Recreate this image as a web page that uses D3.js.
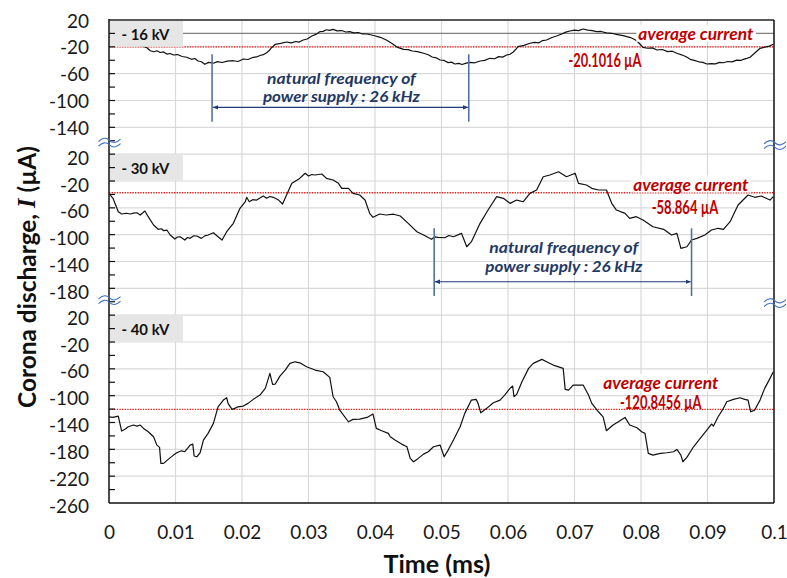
<!DOCTYPE html>
<html><head><meta charset="utf-8">
<script src="https://cdn.jsdelivr.net/npm/d3@7"></script>
<style>body{margin:0;background:#fff}svg{display:block}</style>
</head><body><svg id="chart" width="787" height="578"></svg>
<script>
// ---------------- data ----------------
const timeTicks = [0, 0.01, 0.02, 0.03, 0.04, 0.05, 0.06, 0.07, 0.08, 0.09, 0.1];
const panelNames = ["- 16 kV", "- 30 kV", "- 40 kV"];
const tickLabels16 = [20, -20, -60, -100, -140];
const tickLabels30 = [20, -20, -60, -100, -140, -180];
const tickLabels40 = [20, -20, -60, -100, -140, -180, -220, -260];
const averageTexts = ["-20.1016 µA", "-58.864 µA", "-120.8456 µA"];
const averageLevels = [-20.1, -37.5, -120.4];   // where the dotted lines sit in the picture
const periodMarks16 = [0.0155, 0.0541];          // natural frequency markers (ms)
const periodMarks30 = [0.0489, 0.0876];

const wave16 = [[0,-5.3],[0.0012,-7.5],[0.0024,-11.3],[0.0035,-14.5],[0.0047,-18.8],[0.0052,-19.5],[0.0057,-21.3],[0.0062,-25.8],[0.0067,-27.3],[0.0072,-25.9],[0.0077,-28.4],[0.0082,-27.6],[0.0087,-30.8],[0.0092,-29.9],[0.0097,-32.2],[0.0103,-31.5],[0.011,-34.4],[0.0117,-35.5],[0.0124,-38.6],[0.0129,-37.4],[0.0134,-41.1],[0.0139,-42.2],[0.0144,-46],[0.015,-43.2],[0.0157,-44.5],[0.0163,-42.1],[0.017,-43.4],[0.0178,-41.2],[0.0187,-40.7],[0.0194,-41.9],[0.0202,-38.1],[0.0209,-38.9],[0.0217,-35.6],[0.0222,-35.1],[0.0227,-32.9],[0.0232,-31.7],[0.0237,-28.7],[0.0241,-25.5],[0.0244,-21.7],[0.0247,-19.1],[0.025,-16.2],[0.0258,-14.9],[0.0267,-12.8],[0.0274,-14.1],[0.0281,-12],[0.0286,-12.9],[0.0292,-9.8],[0.0298,-8.3],[0.0305,-3.9],[0.0311,-1.5],[0.0317,2.6],[0.0322,3.1],[0.0327,5.5],[0.0332,4.6],[0.0337,6.1],[0.0343,3.8],[0.035,4.3],[0.0356,2.1],[0.0362,2.6],[0.0368,0.9],[0.0375,1.4],[0.0381,-0.8],[0.0388,-0.9],[0.0398,-3.1],[0.0408,-5.8],[0.0417,-9.8],[0.0425,-14.7],[0.0434,-20.9],[0.0443,-23.7],[0.045,-24.1],[0.0456,-26.2],[0.0464,-27.1],[0.0473,-29.6],[0.048,-31.8],[0.0486,-35.2],[0.0492,-36.4],[0.0498,-39.6],[0.0504,-40.3],[0.051,-43.5],[0.0515,-42.8],[0.052,-45.6],[0.0526,-44.6],[0.0531,-46.3],[0.0537,-44.2],[0.0543,-43.1],[0.055,-43.8],[0.0558,-41.1],[0.0565,-40.2],[0.0573,-37.1],[0.058,-37.8],[0.0586,-34.6],[0.0592,-35.3],[0.0598,-32.2],[0.0603,-31.1],[0.0608,-27.7],[0.0612,-23.5],[0.0615,-19.8],[0.0624,-17.9],[0.0633,-14.7],[0.064,-13.4],[0.0646,-14.2],[0.0652,-10.7],[0.0658,-9.8],[0.0666,-6.1],[0.0673,-3.9],[0.068,-1.2],[0.0687,1.9],[0.0693,3.6],[0.07,4.8],[0.0706,4.1],[0.0713,6.6],[0.072,4.9],[0.0727,4.2],[0.0733,2.6],[0.074,2.9],[0.0748,0.8],[0.0756,0.2],[0.0763,-1.3],[0.0773,-3.2],[0.0783,-5.8],[0.0789,-8.4],[0.0794,-11.3],[0.0799,-16.5],[0.0803,-20.7],[0.081,-22.1],[0.0817,-21.6],[0.0824,-24.7],[0.0832,-24],[0.084,-27.2],[0.0847,-26.5],[0.0854,-29.6],[0.0861,-31.9],[0.0868,-34.8],[0.0874,-38.6],[0.088,-40.1],[0.0887,-42.3],[0.0893,-43.1],[0.0899,-45.6],[0.0905,-45.1],[0.0912,-45.4],[0.0918,-43.2],[0.0924,-43.7],[0.093,-41.9],[0.0937,-42.5],[0.0944,-39.8],[0.095,-40.3],[0.0954,-38.6],[0.0959,-37.2],[0.0964,-35.6],[0.0972,-28.5],[0.0979,-22.2],[0.0986,-20.4],[0.0993,-18.9],[0.0999,-16.2]];

const wave30 = [[0.0002,-40.9],[0.0006,-45.8],[0.0014,-65.8],[0.0019,-69.2],[0.0026,-68.1],[0.0032,-69.2],[0.0037,-67.9],[0.0042,-67.3],[0.0047,-70.7],[0.0054,-64.8],[0.0059,-73.2],[0.0067,-85.6],[0.0074,-92],[0.0079,-91.2],[0.0082,-94.1],[0.0087,-93.1],[0.0092,-100.5],[0.0099,-106.5],[0.0103,-103.5],[0.0107,-103.1],[0.0114,-108],[0.0118,-104.2],[0.0122,-105.5],[0.0127,-101.9],[0.0132,-102],[0.0139,-105.5],[0.0144,-101.8],[0.0149,-100.5],[0.0157,-97.1],[0.0164,-103.1],[0.017,-108],[0.0177,-95.6],[0.0187,-83.1],[0.0197,-60.7],[0.0205,-50.9],[0.0207,-44.3],[0.0211,-50.9],[0.0216,-47.9],[0.0222,-48.4],[0.0232,-42.4],[0.0237,-45.8],[0.0242,-43.1],[0.0247,-44.3],[0.0255,-48.4],[0.0261,-54.3],[0.0267,-40.9],[0.0275,-23.5],[0.0285,-17.5],[0.0295,-8.5],[0.03,-12.6],[0.0305,-10.3],[0.031,-11.1],[0.032,-9.6],[0.0327,-16],[0.0337,-18.5],[0.0345,-23.5],[0.035,-30.9],[0.036,-30.9],[0.0367,-38.4],[0.0377,-40.9],[0.0385,-48.4],[0.0392,-68.2],[0.0397,-74.1],[0.0407,-69.2],[0.0417,-70.7],[0.0428,-69.5],[0.0438,-72.2],[0.045,-83.1],[0.0463,-95.6],[0.0473,-100.5],[0.0485,-106.9],[0.049,-103.2],[0.0495,-104],[0.0505,-104.6],[0.0511,-101.3],[0.0518,-103.1],[0.053,-98],[0.0538,-118],[0.0545,-110.5],[0.0558,-83.1],[0.057,-63.3],[0.0583,-43.4],[0.0593,-45.8],[0.0603,-53.3],[0.0613,-48.4],[0.0623,-50.9],[0.0633,-38.4],[0.0643,-33.4],[0.0653,-13.6],[0.0663,-11.1],[0.0676,-6.2],[0.0688,-13.6],[0.0701,-8.5],[0.0706,-23.5],[0.0718,-26],[0.0726,-30.9],[0.0736,-33.4],[0.0748,-33.4],[0.0756,-53.3],[0.0763,-63.3],[0.0776,-68.2],[0.0783,-75.6],[0.0793,-73.2],[0.0803,-78.2],[0.0818,-88.2],[0.0834,-92],[0.0846,-100.5],[0.0854,-98],[0.086,-120.4],[0.0869,-118],[0.0876,-108],[0.0884,-105.5],[0.0896,-100.5],[0.0906,-93.1],[0.0916,-90.5],[0.0924,-92],[0.0934,-80.7],[0.0946,-55.8],[0.0961,-40.9],[0.0971,-44.3],[0.0981,-42.4],[0.0994,-48.4],[0.0999,-43.4]];

const wave40 = [[0,-131.5],[0.0006,-132.4],[0.0014,-130.4],[0.0017,-143.8],[0.0019,-152.8],[0.0024,-150.2],[0.0029,-146.4],[0.0037,-143.8],[0.0042,-145.3],[0.0047,-143.8],[0.0052,-148.8],[0.0059,-153.8],[0.0067,-161.3],[0.0072,-173.7],[0.0076,-177.1],[0.0078,-200.9],[0.0082,-200.9],[0.0089,-195],[0.0097,-188.6],[0.0102,-185.1],[0.0109,-182.2],[0.0114,-183.6],[0.0122,-173.7],[0.0126,-172.2],[0.0128,-190],[0.0132,-191.1],[0.0137,-185.1],[0.0142,-166.2],[0.0149,-156.2],[0.0157,-141.3],[0.0164,-116.6],[0.0172,-106.6],[0.0177,-103.1],[0.0179,-111.5],[0.0185,-120.4],[0.0189,-118.9],[0.0194,-116.6],[0.0202,-115.5],[0.0209,-111.5],[0.0217,-105.5],[0.0227,-99.1],[0.0235,-89.1],[0.0242,-66.8],[0.0246,-83.2],[0.025,-82.7],[0.0257,-70.8],[0.0265,-61.8],[0.0272,-51.9],[0.028,-49.5],[0.0287,-51],[0.0297,-56.9],[0.031,-61.8],[0.0322,-64.4],[0.0332,-72.7],[0.0337,-101.6],[0.0342,-109.1],[0.0347,-121.5],[0.036,-138.9],[0.0367,-135.3],[0.0377,-134.9],[0.0388,-132.4],[0.0397,-127.4],[0.0402,-148.8],[0.041,-152.3],[0.042,-156.2],[0.0423,-161.3],[0.043,-166.2],[0.044,-172.2],[0.0448,-176.2],[0.0453,-193.5],[0.0458,-198.5],[0.0465,-193.5],[0.0473,-187.1],[0.048,-183.6],[0.0488,-176.2],[0.0498,-173.7],[0.0504,-191.1],[0.051,-181.1],[0.0518,-166.2],[0.0528,-146.4],[0.0535,-126.4],[0.0545,-106.6],[0.0552,-105.5],[0.0555,-111.5],[0.0559,-125.5],[0.0568,-118.9],[0.0578,-110.6],[0.0588,-106.6],[0.0595,-99.1],[0.0603,-89.1],[0.0607,-85.7],[0.0609,-101.6],[0.0613,-98.1],[0.0621,-79.3],[0.0631,-59.3],[0.0638,-51.9],[0.0651,-45.9],[0.0658,-49.5],[0.0668,-54.4],[0.0683,-59.3],[0.0686,-90.6],[0.0691,-91.7],[0.0698,-84.2],[0.0713,-84.2],[0.0721,-99.1],[0.0726,-111.5],[0.0736,-124],[0.0743,-131.5],[0.0748,-152.3],[0.0758,-143.8],[0.0766,-138.9],[0.0776,-132.4],[0.0783,-143.8],[0.0794,-147.9],[0.0801,-153.8],[0.0806,-156.2],[0.0811,-186],[0.0818,-188.6],[0.0829,-186],[0.0839,-185.1],[0.0849,-183.6],[0.0854,-180.1],[0.086,-188.6],[0.0863,-198.5],[0.0869,-192],[0.0879,-176.2],[0.0889,-163.7],[0.0899,-151.3],[0.0906,-142.3],[0.0909,-145.3],[0.0916,-131.5],[0.0924,-118.9],[0.0929,-109.1],[0.0939,-105.5],[0.0949,-103.1],[0.0956,-105.5],[0.0961,-106.6],[0.0965,-124],[0.0971,-121.5],[0.0979,-106.6],[0.0986,-89.1],[0.0994,-74.2],[0.0999,-64.4]];

(function () {
// ---------------- layout ----------------
const svg = d3.select("#chart");
const FONT = "Lato, 'Open Sans', sans-serif";
const L = 109, R = 774, T = 20, B = 503;
const x = d3.scaleLinear().domain([0, 0.1]).range([L, R]);
const row = d3.scaleLinear().domain([0, 18]).range([T, B]);   // 18 grid rows
const rowSpans = [[0, 5], [5, 11], [11, 18]];
const ys = rowSpans.map(([r0, r1]) =>
  d3.scaleLinear().domain([20, 20 - 40 * (r1 - r0)]).range([row(r0), row(r1)]));
const waves = [wave16, wave30, wave40];
const tickSets = [tickLabels16, tickLabels30, tickLabels40];
const labelShift = [0, 3, 2];

function fit(sel, target) {
  const w = sel.node().getComputedTextLength();
  const fs = parseFloat(sel.attr("font-size"));
  sel.attr("font-size", (fs * target / w).toFixed(2));
  return sel;
}

// grid
svg.selectAll(".hg").data(d3.range(1, 18)).join("line").attr("class", "hg")
  .attr("x1", L).attr("x2", R)
  .attr("y1", d => row(d)).attr("y2", d => row(d))
  .attr("stroke", "#d9d9d9").attr("stroke-width", 1.2);
svg.selectAll(".vg").data(timeTicks.slice(1, -1)).join("line").attr("class", "vg")
  .attr("x1", d => x(d)).attr("x2", d => x(d))
  .attr("y1", T).attr("y2", B)
  .attr("stroke", "#d9d9d9").attr("stroke-width", 1.2);

// zero line of the top panel
svg.append("line").attr("x1", L).attr("x2", R)
  .attr("y1", ys[0](0)).attr("y2", ys[0](0))
  .attr("stroke", "#808080").attr("stroke-width", 1.3);

// average dotted lines
svg.selectAll(".avg").data(averageLevels).join("line").attr("class", "avg")
  .attr("x1", L).attr("x2", R)
  .attr("y1", (d, i) => ys[i](d)).attr("y2", (d, i) => ys[i](d))
  .attr("stroke", "#e8201a").attr("stroke-width", 1.3)
  .attr("stroke-dasharray", "1.4 1.2");

// waveforms
waves.forEach((w, i) => {
  const line = d3.line().x(d => x(d[0])).y(d => ys[i](d[1]));
  svg.append("path").datum(w).attr("d", line)
    .attr("fill", "none").attr("stroke", "#111").attr("stroke-width", 1.2)
    .attr("stroke-linejoin", "round");
});

// natural-frequency annotations
const navy = "#1f3a75";
svg.append("defs").html(
  `<marker id="ah" viewBox="0 0 10 10" refX="9" refY="5" markerWidth="5" markerHeight="5" orient="auto-start-reverse"><path d="M0,1 L10,5 L0,9 z" fill="${navy}"/></marker>`);
function periodNote(marks, yScale, v0, v1, vArrow, vText1, vText2) {
  svg.selectAll(null).data(marks).join("line")
    .attr("x1", d => x(d)).attr("x2", d => x(d))
    .attr("y1", yScale(v0)).attr("y2", yScale(v1))
    .attr("stroke", "#5470a3").attr("stroke-width", 1.6);
  svg.append("line")
    .attr("x1", x(marks[0]) + 1).attr("x2", x(marks[1]) - 1)
    .attr("y1", yScale(vArrow)).attr("y2", yScale(vArrow))
    .attr("stroke", navy).attr("stroke-width", 1.1)
    .attr("marker-start", "url(#ah)").attr("marker-end", "url(#ah)");
  const cx = (x(marks[0]) + x(marks[1])) / 2 + 1;
  [["natural frequency of", vText1, 149], ["power supply : 26 kHz", vText2, 157]].forEach(([t, v, w]) => {
    svg.append("text").attr("x", cx).attr("y", yScale(v))
      .attr("text-anchor", "middle").attr("dominant-baseline", "central")
      .attr("font-family", FONT).attr("font-weight", "bold").attr("font-style", "italic")
      .attr("font-size", 16).attr("fill", "#1f3864")
      .attr("textLength", w).attr("lengthAdjust", "spacingAndGlyphs").text(t);
  });
}
periodNote(periodMarks16, ys[0], -31, -131.6, -110.2, -66, -92.5);
periodNote(periodMarks30, ys[1], -90.5, -191.5, -170.2, -118, -146);

// panel name boxes
panelNames.forEach((name, i) => {
  const r0 = rowSpans[i][0];
  const y0 = row(r0) + (i === 0 ? 0.5 : 0);
  svg.append("rect").attr("x", L + 1).attr("y", y0)
    .attr("width", 73).attr("height", row(r0 + 1) - row(r0) - 0.5)
    .attr("fill", "#e7e6e6");
  const t = svg.append("text").attr("x", L + 12.5).attr("y", y0 + 13.5)
    .attr("dominant-baseline", "central")
    .attr("font-family", FONT).attr("font-weight", "bold").attr("font-size", 16)
    .attr("fill", "#111").text(name);
  fit(t, 48);
});

// red average texts
const red = "#c00000";
const avgTitlePos = [[695.8, 33.3], [690.8, 184], [660.8, 382.5]];
const avgValuePos = [[605, 60], [685, 206.5], [660.8, 402]];
const avgValueWidth = [73, 66.6, 81.7];
avgTitlePos.forEach(([cx, cy], i) => {
  const t = svg.append("text").attr("x", cx).attr("y", cy)
    .attr("text-anchor", "middle").attr("dominant-baseline", "central")
    .attr("font-family", FONT).attr("font-weight", "bold").attr("font-style", "italic")
    .attr("font-size", 17).attr("fill", red)
    .attr("textLength", 115).attr("lengthAdjust", "spacingAndGlyphs")
    .text("average current");
  const bb = t.node().getBBox();
  svg.insert("rect", () => t.node())
    .attr("x", bb.x - 2).attr("y", bb.y + 2).attr("width", bb.width + 4).attr("height", bb.height - 4)
    .attr("fill", "#fff");
  svg.append("text").attr("x", avgValuePos[i][0]).attr("y", avgValuePos[i][1])
    .attr("text-anchor", "middle").attr("dominant-baseline", "central")
    .attr("font-family", FONT).attr("font-weight", "bold")
    .attr("font-size", 18).attr("fill", red)
    .attr("textLength", avgValueWidth[i]).attr("lengthAdjust", "spacingAndGlyphs")
    .text(averageTexts[i]);
});

// axes frame
svg.append("line").attr("x1", L).attr("x2", R).attr("y1", T).attr("y2", T)
  .attr("stroke", "#595959").attr("stroke-width", 2);
svg.append("line").attr("x1", R).attr("x2", R).attr("y1", T).attr("y2", B)
  .attr("stroke", "#111").attr("stroke-width", 1.5);
svg.append("line").attr("x1", L).attr("x2", L).attr("y1", T - 1).attr("y2", B)
  .attr("stroke", "#111").attr("stroke-width", 1.5);
svg.append("line").attr("x1", L).attr("x2", R).attr("y1", B).attr("y2", B)
  .attr("stroke", "#111").attr("stroke-width", 1.5);
svg.selectAll(".tk").data(d3.range(1, 36)).join("line").attr("class", "tk")
  .attr("x1", L).attr("x2", L + 6)
  .attr("y1", d => row(d / 2)).attr("y2", d => row(d / 2))
  .attr("stroke", "#111").attr("stroke-width", 1.2);

// y tick labels per panel
tickSets.forEach((ticks, i) => {
  svg.selectAll(null).data(ticks).join("text")
    .attr("x", 89).attr("y", d => ys[i](d) + labelShift[i])
    .attr("text-anchor", "end").attr("dominant-baseline", "central")
    .attr("font-family", FONT).attr("font-size", 19).attr("fill", "#1a1a1a")
    .text(d => d);
});

// x tick labels
const xAxis = d3.axisBottom(x).tickValues(timeTicks).tickSize(0).tickPadding(23)
  .tickFormat(d => String(+d.toFixed(2)));
const xa = svg.append("g").attr("transform", `translate(0,${B})`).call(xAxis);
xa.select(".domain").remove();
xa.selectAll("text").attr("font-family", FONT).attr("font-size", 19).attr("fill", "#1a1a1a");

// break marks
function breakMark(cx, cy) {
  const gg = svg.append("g").attr("transform", `translate(${cx},${cy})`);
  [-2.3, 2.3].forEach(dy => gg.append("path")
    .attr("d", `M-11,${dy + 1.2} C-7,${dy - 3} -3,${dy - 3} 0,${dy} C3,${dy + 3} 7,${dy + 3} 11,${dy - 1.2}`)
    .attr("fill", "none").attr("stroke", "#4472c4").attr("stroke-width", 1.1));
}
[4.57, 10.44].forEach(r => breakMark(L + 0.5, row(r)));
[4.66, 10.55].forEach(r => breakMark(R + 1, row(r)));

// titles
const xt = svg.append("text").attr("x", 437).attr("y", 563)
  .attr("text-anchor", "middle").attr("dominant-baseline", "central")
  .attr("font-family", FONT).attr("font-weight", "bold").attr("font-size", 23)
  .attr("fill", "#111").text("Time (ms)");
fit(xt, 107);
const yt = svg.append("text").attr("transform", "translate(26,277) rotate(-90)")
  .attr("text-anchor", "middle").attr("dominant-baseline", "central")
  .attr("font-family", FONT).attr("font-weight", "bold").attr("font-size", 23)
  .attr("fill", "#111");
yt.append("tspan").text("Corona discharge, ");
yt.append("tspan").attr("font-family", "'Liberation Serif', serif").attr("font-style", "italic").text("I");
yt.append("tspan").text(" (µA)");
fit(yt, 262);
})();
</script>
</body></html>
